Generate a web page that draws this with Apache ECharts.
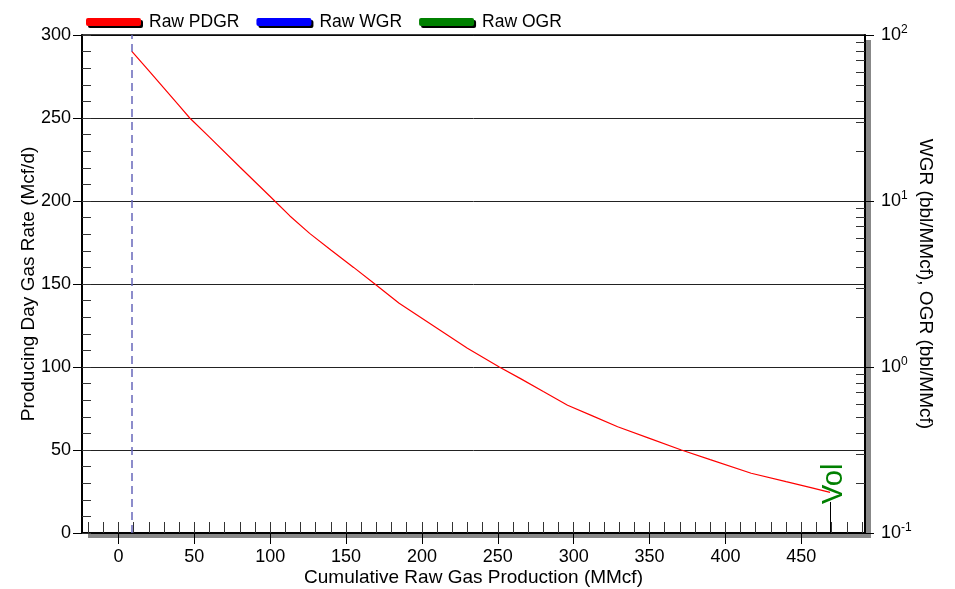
<!DOCTYPE html>
<html>
<head>
<meta charset="utf-8">
<script src="https://cdn.jsdelivr.net/npm/echarts@6/dist/echarts.min.js"></script>
<style>
  html, body { margin: 0; padding: 0; background: #fff; }
  #chart { width: 955px; height: 589px; }
</style>
</head>
<body>
<div id="chart"></div>
<script>
// 数据
const cumGas = [9, 20, 30, 40, 47, 60, 80, 100, 113, 126, 140, 155, 169, 185, 200, 215, 230, 251, 265, 280, 296, 312, 329, 350, 371, 390, 417, 440, 455, 469]
const pdgr = [290, 278.5, 268, 257.5, 250, 238.5, 220.5, 202.7, 191, 180.5, 170.5, 160, 150, 138.4, 129.4, 120.4, 111.3, 100, 93, 85.2, 77, 70.7, 64, 57, 50, 44.2, 36, 30.9, 27.6, 24.5]
const wgr = []
const ogr = []
const legendNames = ['Raw PDGR', 'Raw WGR', 'Raw OGR']
const startCum = 9
const volCum = 469
const volStick = 18.7

// 刻度
const xMajorTicks = [0, 50, 100, 150, 200, 250, 300, 350, 400, 450]
const xMinorTicks = []
for (let v = -20; v <= 490; v += 10) xMinorTicks.push(v)
const yMinorTicks = []
for (let v = 0; v <= 300; v += 10) yMinorTicks.push(v)
const logMinorTicks = [0.2, 0.3, 0.4, 0.5, 0.6, 0.7, 0.8, 0.9, 2, 3, 4, 5, 6, 7, 8, 9, 20, 30, 40, 50, 60, 70, 80, 90]

const FONT = '"Liberation Sans", Arial, Helvetica, sans-serif'

const chart = () => {
  const myChart = echarts.init(document.getElementById('chart'))
  const option = {
    animation: false,
    textStyle: { fontFamily: FONT },
    legend: {
      data: legendNames,
      left: 81,
      top: 8,
      itemWidth: 55,
      itemHeight: 8,
      itemGap: 17,
      icon: 'roundRect',
      itemStyle: { shadowColor: '#000', shadowOffsetX: 2, shadowOffsetY: 2, shadowBlur: 0 },
      textStyle: { fontSize: 17.5, color: '#000', fontFamily: FONT, padding: [0, 0, 0, 3] }
    },
    grid: {
      left: 82,
      right: 90,
      top: 35,
      bottom: 56,
      outerBoundsMode: 'none',
      show: true,
      backgroundColor: '#fff',
      borderWidth: 0,
      shadowColor: '#888',
      shadowBlur: 0,
      shadowOffsetX: 6,
      shadowOffsetY: 5
    },
    xAxis: [
      {
        type: 'value',
        position: 'bottom',
        min: -24,
        max: 492,
        name: 'Cumulative Raw Gas Production (MMcf)',
        nameLocation: 'middle',
        nameGap: 35,
        nameMoveOverlap: false,
        nameTextStyle: { fontSize: 19, color: '#000', fontFamily: FONT },
        axisLine: { onZero: false, lineStyle: { color: '#000', width: 2 } },
        axisTick: { customValues: xMajorTicks, length: 11, lineStyle: { color: '#000', width: 1 } },
        axisLabel: { customValues: xMajorTicks, fontSize: 18, color: '#000', margin: 15, fontFamily: FONT },
        splitLine: { show: false }
      },
      {
        type: 'value',
        position: 'bottom',
        min: -24,
        max: 492,
        axisLine: { show: false, onZero: false },
        axisTick: { customValues: xMinorTicks, inside: true, length: 11, lineStyle: { color: '#333', width: 1 } },
        axisLabel: { show: false },
        splitLine: { show: false }
      },
      {
        type: 'value',
        position: 'top',
        min: -24,
        max: 492,
        axisLine: { onZero: false, lineStyle: { color: '#000', width: 1.5 } },
        axisTick: { show: false },
        axisLabel: { show: false },
        splitLine: { show: false }
      }
    ],
    yAxis: [
      {
        type: 'value',
        position: 'left',
        min: 0,
        max: 300,
        interval: 50,
        name: 'Producing Day Gas Rate (Mcf/d)',
        nameLocation: 'middle',
        nameGap: 44,
        nameRotate: 90,
        nameMoveOverlap: false,
        nameTextStyle: { fontSize: 19, color: '#000', fontFamily: FONT },
        axisLine: { onZero: false, lineStyle: { color: '#000', width: 2 } },
        axisTick: { length: 9, lineStyle: { color: '#000', width: 1 } },
        axisLabel: { fontSize: 18, color: '#000', margin: 11, fontFamily: FONT },
        splitLine: { show: true, lineStyle: { color: '#222', width: 1 } }
      },
      {
        type: 'value',
        position: 'left',
        min: 0,
        max: 300,
        axisLine: { show: false, onZero: false },
        axisTick: { customValues: yMinorTicks, inside: true, length: 9, lineStyle: { color: '#333', width: 1 } },
        axisLabel: { show: false },
        splitLine: { show: false }
      },
      {
        type: 'log',
        logBase: 10,
        position: 'right',
        min: 0.1,
        max: 100,
        name: 'WGR (bbl/MMcf), OGR (bbl/MMcf)',
        nameLocation: 'middle',
        nameGap: 51,
        nameRotate: -90,
        nameMoveOverlap: false,
        nameTextStyle: { fontSize: 19, color: '#000', fontFamily: FONT },
        axisLine: { onZero: false, lineStyle: { color: '#000', width: 2 } },
        axisTick: { length: 9, lineStyle: { color: '#000', width: 1 } },
        axisLabel: {
          margin: 16,
          color: '#000',
          fontSize: 18,
          fontFamily: FONT,
          formatter(value) {
            return '10{sup|' + Math.round(Math.log10(value)) + '}'
          },
          rich: {
            sup: { fontSize: 12, padding: [0, 0, 10, 0], color: '#000', fontFamily: FONT }
          }
        },
        splitLine: { show: false }
      },
      {
        type: 'log',
        logBase: 10,
        position: 'right',
        min: 0.1,
        max: 100,
        axisLine: { show: false, onZero: false },
        axisTick: { customValues: logMinorTicks, inside: true, length: 9, lineStyle: { color: '#333', width: 1 } },
        axisLabel: { show: false },
        splitLine: { show: false }
      }
    ],
    series: [
      {
        name: 'Raw PDGR',
        type: 'line',
        xAxisIndex: 0,
        yAxisIndex: 0,
        data: cumGas.map((c, i) => [c, pdgr[i]]),
        showSymbol: false,
        symbol: 'none',
        color: '#ff0000',
        lineStyle: { color: '#ff0000', width: 1.2 },
        z: 5,
        markLine: {
          silent: true,
          symbol: 'none',
          label: { show: false },
          data: [
            { xAxis: startCum, lineStyle: { color: '#6767bb', width: 1.5, type: [8, 5] } },
            [
              { coord: [volCum, 0], lineStyle: { color: '#000', width: 1, type: 'solid' } },
              { coord: [volCum, volStick] }
            ]
          ]
        },
        markPoint: {
          silent: true,
          symbol: 'circle',
          symbolSize: 0,
          data: [{ coord: [volCum, volStick] }],
          label: {
            show: true,
            formatter: 'Vol',
            position: 'inside',
            rotate: 90,
            align: 'left',
            verticalAlign: 'middle',
            offset: [-2, 4],
            color: '#008000',
            fontSize: 29,
            fontFamily: FONT
          }
        }
      },
      {
        name: 'Raw WGR',
        type: 'line',
        xAxisIndex: 0,
        yAxisIndex: 2,
        data: wgr,
        color: '#0000ff',
        showSymbol: false
      },
      {
        name: 'Raw OGR',
        type: 'line',
        xAxisIndex: 0,
        yAxisIndex: 2,
        data: ogr,
        color: '#008000',
        showSymbol: false
      }
    ]
  }
  myChart.setOption(option)
  window.addEventListener('resize', () => {
    myChart.resize()
  })
}
chart()
</script>
</body>
</html>
